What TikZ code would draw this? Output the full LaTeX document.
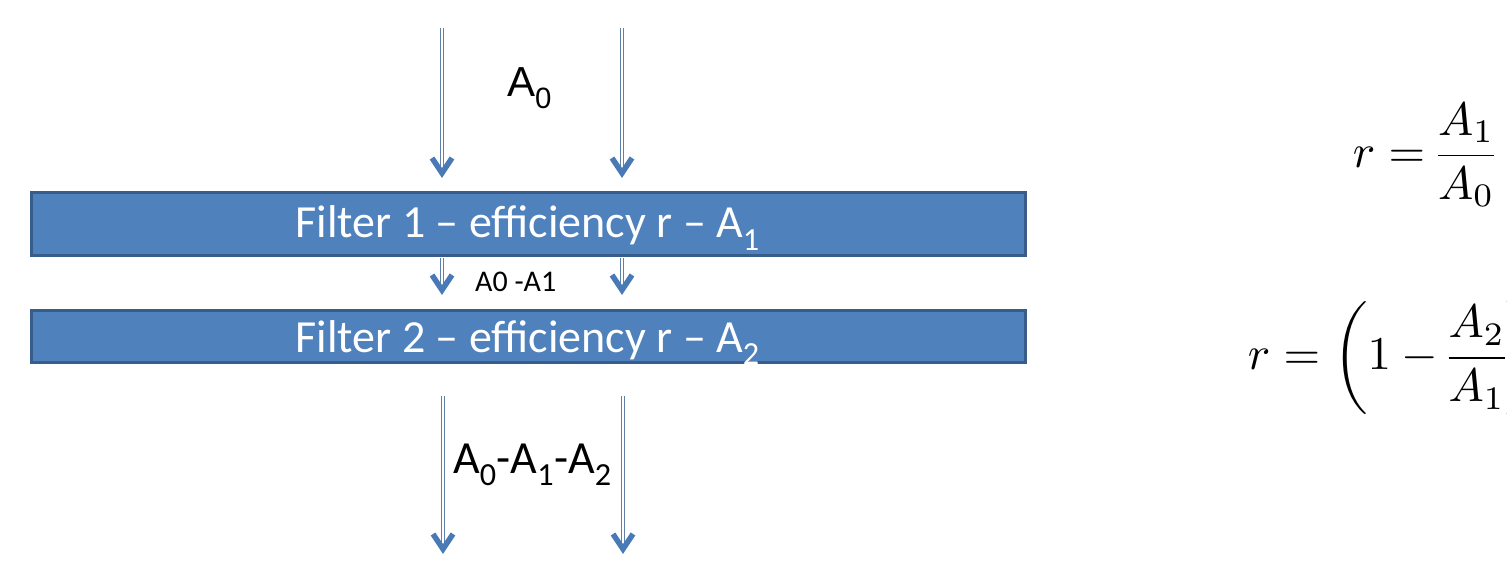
\documentclass[tikz,border=0pt]{standalone}
\usepackage{amsmath}
\usepackage{fontspec}
\setmainfont{Carlito}
\newfontfamily\arialf{Liberation Sans}
\definecolor{boxfill}{RGB}{79,129,189}
\definecolor{boxline}{RGB}{56,93,138}
\definecolor{shaftcol}{RGB}{95,128,168}
\definecolor{headcol}{RGB}{74,122,182}
\tikzset{
  filterbox/.style={draw=boxline, fill=boxfill, line width=3pt},
  filtertext/.style={text=white, font=\fontsize{46}{50}\selectfont, inner sep=0pt, anchor=base east},
  shaftline/.style={draw=shaftcol, line width=1.3pt, double=white, double distance=2.2pt},
  headline/.style={draw=headcol, line width=5.5pt, line join=miter, line cap=butt},
  flowlabel/.style={text=black, inner sep=0pt},
  eqn/.style={inner sep=0pt, anchor=west, scale=4.7}
}
\newcommand{\flowarr}[2]{%
  \draw[shaftline] (#1) -- ([yshift=8pt]#2);
  \draw[headline] ([xshift=-10pt,yshift=20pt]#2) -- ([yshift=5pt]#2) -- ([xshift=10pt,yshift=20pt]#2);
}
\begin{document}
\begin{tikzpicture}[x=1pt,y=-1pt]
\useasboundingbox (0,0) rectangle (1507,561);
% filter boxes
\draw[filterbox] (31,193) rectangle (1025,256);
\node[filtertext] (f1) at (760,238) {Filter 1 -- efficiency r -- A\textsubscript{1}};
\draw[filterbox] (31,311) rectangle (1025,362);
\node[filtertext] (f2) at (760,352) {Filter 2 -- efficiency r -- A\textsubscript{2}};
% arrow end points
\coordinate (t1s) at (442,28);  \coordinate (t1e) at (442,178);
\coordinate (t2s) at (622,28);  \coordinate (t2e) at (622,178);
\coordinate (m1s) at (442,258); \coordinate (m1e) at (442,295);
\coordinate (m2s) at (622,258); \coordinate (m2e) at (622,295);
\coordinate (b1s) at (443,396); \coordinate (b1e) at (443,554);
\coordinate (b2s) at (623,396); \coordinate (b2e) at (623,554);
\flowarr{t1s}{t1e}
\flowarr{t2s}{t2e}
\flowarr{m1s}{m1e}
\flowarr{m2s}{m2e}
\flowarr{b1s}{b1e}
\flowarr{b2s}{b2e}
% labels
\node[flowlabel, font=\arialf\fontsize{42}{46}\selectfont, anchor=base west] (a0) at (507,97) {A\textsubscript{0}};
\node[flowlabel, font=\fontsize{30}{34}\selectfont, anchor=base west] (a01) at (475,292) {A0 -A1};
\node[flowlabel, font=\fontsize{46}{50}\selectfont, anchor=base west] (a012) at (453,473) {A\textsubscript{0}-A\textsubscript{1}-A\textsubscript{2}};
% equations
\node[eqn] (eq1) at (1352,155) {$\nulldelimiterspace=0pt\displaystyle r = \frac{A_1}{A_0}$};
\node[eqn] (eq2) at (1247,358) {$\nulldelimiterspace=0pt\displaystyle r = \left(1 - \frac{A_2}{A_1}\right)$};
\end{tikzpicture}
\end{document}
